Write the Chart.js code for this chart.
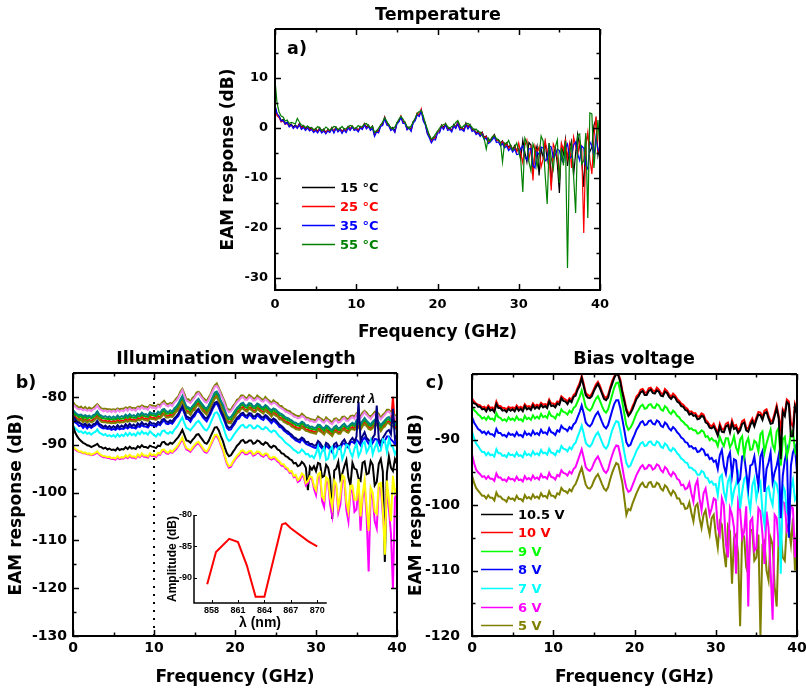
<!DOCTYPE html>
<html>
<head>
<meta charset="utf-8">
<script src="https://cdn.jsdelivr.net/npm/chart.js@4.4.1/dist/chart.umd.min.js"></script>
<style>
  body { margin: 0; background: #fff; width: 806px; height: 693px; position: relative; overflow: hidden; font-family: "DejaVu Sans", sans-serif; }
  canvas { position: absolute; }
  .lbl { position: absolute; transform: translate(-50%, -50%); font-weight: bold; font-size: 17.5px; line-height: 1; white-space: nowrap; color: #000; }
</style>
</head>
<body>
<canvas id="chartA" width="420" height="345" style="left:200px;top:0px"></canvas>
<canvas id="chartB" width="410" height="348" style="left:0px;top:345px"></canvas>
<canvas id="chartC" width="408" height="348" style="left:398px;top:345px"></canvas>
<canvas id="chartInset" width="185" height="140" style="left:150px;top:500px"></canvas>

<div class="lbl" style="left:438px;top:15px">Temperature</div>
<div class="lbl" style="left:297px;top:49px">a)</div>
<div class="lbl" style="left:236px;top:359px">Illumination wavelength</div>
<div class="lbl" style="left:26px;top:383px">b)</div>
<div class="lbl" style="left:634px;top:359px">Bias voltage</div>
<div class="lbl" style="left:435px;top:383px">c)</div>
<div class="lbl" style="left:344px;top:398px;font:italic bold 13px 'Liberation Sans'">different &lambda;</div>

<script>
// frequency grid (GHz), shared by all three panels
const freq = [
  0, 0.25, 0.5, 0.75, 1, 1.25, 1.5, 1.75, 2, 2.25, 2.5, 2.75, 3, 3.25, 3.5, 3.75, 4, 4.25, 4.5, 4.75,
  5, 5.25, 5.5, 5.75, 6, 6.25, 6.5, 6.75, 7, 7.25, 7.5, 7.75, 8, 8.25, 8.5, 8.75, 9, 9.25, 9.5, 9.75,
  10, 10.25, 10.5, 10.75, 11, 11.25, 11.5, 11.75, 12, 12.25, 12.5, 12.75, 13, 13.25, 13.5, 13.75, 14, 14.25, 14.5, 14.75,
  15, 15.25, 15.5, 15.75, 16, 16.25, 16.5, 16.75, 17, 17.25, 17.5, 17.75, 18, 18.25, 18.5, 18.75, 19, 19.25, 19.5, 19.75,
  20, 20.25, 20.5, 20.75, 21, 21.25, 21.5, 21.75, 22, 22.25, 22.5, 22.75, 23, 23.25, 23.5, 23.75, 24, 24.25, 24.5, 24.75,
  25, 25.25, 25.5, 25.75, 26, 26.25, 26.5, 26.75, 27, 27.25, 27.5, 27.75, 28, 28.25, 28.5, 28.75, 29, 29.25, 29.5, 29.75,
  30, 30.25, 30.5, 30.75, 31, 31.25, 31.5, 31.75, 32, 32.25, 32.5, 32.75, 33, 33.25, 33.5, 33.75, 34, 34.25, 34.5, 34.75,
  35, 35.25, 35.5, 35.75, 36, 36.25, 36.5, 36.75, 37, 37.25, 37.5, 37.75, 38, 38.25, 38.5, 38.75, 39, 39.25, 39.5, 39.75,
  40
];
const freqTicks = [0, 10, 20, 30, 40];

// a) temperature
const tempLabels = ['15 °C', '25 °C', '35 °C', '55 °C'];
const t15 = [
  4.3, 2.7, 2.4, 1.5, 1.7, 0.9, 1.2, 0.5, 0.8, 0.2, 0.6, 0.2, 0.9, 0.1, 0.5, -0.2, 0.3, -0.3, 0.1, -0.6,
  -0.1, -0.7, 0.1, -0.6, -0.2, -0.9, -0.3, -0.6, 0.1, -0.7, 0.2, -0.5, 0.0, -0.8, -0.1, -0.6, 0.3, -0.2, 0.4, -0.2,
  0.1, -0.5, 0.3, 0.0, 0.9, 0.2, 0.6, -0.1, 0.4, -1.3, -0.5, -0.6, 0.6, 0.9, 2.2, 1.0, 0.7, -0.2, 0.1, -0.6,
  1.1, 1.4, 2.3, 1.3, 1.2, 0.0, 0.2, -0.4, 1.3, 1.6, 2.9, 2.6, 3.6, 1.8, 1.0, -0.8, -1.4, -2.6, -1.8, -1.9,
  -0.6, -0.6, 0.6, 0.1, 0.9, -0.2, 0.0, -0.5, 0.7, 0.2, 1.2, 0.0, 0.1, -0.4, 1.0, 0.2, 0.7, -0.4, -0.2, -1.0,
  -0.6, -1.4, -0.8, -1.9, -1.6, -2.7, -2.4, -1.8, -1.3, -2.5, -2.3, -3.1, -2.6, -3.5, -3.0, -3.9, -3.4, -4.3, -3.5, -4.6,
  -4.2, -6.0, -2.4, -4.8, -6.8, -2.9, -3.4, -8.5, -5.0, -3.6, -9.5, -4.2, -5.8, -2.8, -6.4, -3.0, -11.5, -5.2, -4.0, -7.2,
  -13.0, -3.5, -5.2, -2.2, -7.6, -4.0, -2.6, -9.5, -5.0, -1.2, -3.8, -6.5, -11.8, -2.6, -1.5, -4.8, -3.8, 0.5, 1.8, -5.5,
  -3.5
];
const t25 = [
  4.0, 2.4, 2.1, 1.2, 1.4, 0.7, 0.9, 0.3, 0.6, 0.0, 0.4, 0.0, 0.7, -0.1, 0.3, -0.4, 0.1, -0.5, -0.1, -0.7,
  -0.3, -0.8, -0.1, -0.8, -0.4, -1.0, -0.4, -0.7, 0.0, -0.8, 0.1, -0.6, -0.1, -0.9, -0.2, -0.7, 0.2, -0.3, 0.3, -0.4,
  -0.1, -0.6, 0.2, -0.1, 0.8, 0.0, 0.4, -0.3, 0.2, -1.5, -0.6, -0.8, 0.5, 0.7, 2.1, 0.8, 0.5, -0.3, -0.1, -0.8,
  0.9, 1.5, 2.4, 1.1, 1.0, -0.2, 0.1, -0.5, 1.1, 1.7, 3.0, 2.5, 3.8, 1.6, 0.8, -1.0, -1.7, -2.8, -2.0, -2.1,
  -0.8, -0.8, 0.5, -0.1, 0.8, -0.3, -0.2, -0.6, 0.5, 0.1, 1.0, -0.2, -0.1, -0.5, 0.8, 0.0, 0.5, -0.5, -0.4, -1.2,
  -0.8, -1.5, -1.0, -2.1, -1.7, -2.9, -2.5, -2.0, -1.5, -2.6, -2.5, -3.3, -2.8, -3.7, -3.2, -4.1, -3.6, -4.4, -3.8, -4.9,
  -3.0, -5.2, -7.0, -3.5, -2.4, -6.2, -4.0, -10.5, -3.6, -5.0, -3.8, -7.8, -6.2, -2.6, -4.5, -5.8, -12.5, -3.2, -4.2, -6.0,
  -9.5, -3.0, -4.4, -2.4, -6.0, -3.2, -8.0, -1.8, -3.6, -5.5, -2.6, -4.0, -21.0, -3.5, -0.8, -6.2, -9.2, -2.0, 2.3, -4.8,
  -4.0
];
const t35 = [
  4.6, 2.9, 2.3, 1.4, 1.5, 0.8, 1.1, 0.2, 0.6, -0.1, 0.4, -0.1, 0.6, -0.3, 0.1, -0.5, 0.0, -0.6, -0.3, -0.9,
  -0.5, -1.0, -0.3, -1.0, -0.6, -1.2, -0.6, -0.9, -0.2, -1.0, -0.1, -0.8, -0.3, -1.1, -0.4, -0.9, 0.0, -0.5, 0.2, -0.5,
  -0.3, -0.8, 0.0, -0.3, 0.6, -0.2, 0.3, -0.5, 0.0, -1.7, -0.8, -1.0, 0.3, 0.5, 1.9, 0.6, 0.4, -0.5, -0.2, -0.9,
  0.8, 1.2, 2.1, 0.9, 0.9, -0.4, 0.0, -0.7, 1.0, 1.4, 2.6, 2.3, 3.4, 1.4, 0.6, -1.2, -2.0, -3.0, -2.3, -2.4,
  -1.0, -1.0, 0.3, -0.3, 0.6, -0.5, -0.3, -0.8, 0.4, -0.1, 0.8, -0.4, -0.3, -0.7, 0.6, -0.2, 0.4, -0.7, -0.5, -1.3,
  -1.0, -1.7, -1.2, -2.3, -2.0, -3.1, -2.8, -2.3, -1.8, -2.9, -2.8, -3.6, -3.1, -4.0, -3.6, -4.5, -4.0, -4.8, -4.2, -5.3,
  -5.2, -4.0, -3.6, -5.8, -6.4, -4.2, -4.1, -7.5, -8.0, -4.8, -5.3, -3.8, -4.0, -6.6, -6.2, -3.6, -3.8, -5.9, -5.5, -4.2,
  -4.5, -6.2, -7.0, -4.0, -3.2, -6.0, -5.8, -3.4, -2.8, -5.2, -6.5, -3.6, -4.0, -7.5, -8.2, -2.8, -3.5, -5.8, -1.8, -4.2,
  -5.0
];
const t55 = [
  9.6, 5.0, 3.2, 2.4, 2.2, 1.4, 1.6, 0.9, 1.1, 1.0, 0.8, 1.9, 1.2, 0.6, 0.5, 0.1, 0.4, 0.1, 0.1, -0.3,
  -0.2, 0.3, 0.0, -0.5, -0.4, 0.2, -0.1, -0.5, -0.1, 0.3, 0.2, -0.3, -0.1, 0.3, -0.2, -0.1, 0.2, 0.5, 0.4, -0.1,
  0.0, 0.5, 0.2, 0.3, 0.8, 0.9, 0.4, 0.0, 0.3, -0.9, -0.6, 0.0, 0.6, 1.2, 2.0, 1.4, 0.6, 0.1, -0.2, 0.2,
  1.0, 1.8, 2.3, 1.8, 1.1, 0.3, -0.1, 0.4, 1.2, 2.0, 2.9, 3.3, 3.5, 2.4, 0.9, -0.2, -1.5, -2.2, -1.9, -1.2,
  -0.7, 0.0, 0.4, 0.7, 0.8, 0.3, -0.1, 0.3, 0.5, 1.1, 1.5, 0.6, 0.0, 0.5, 0.8, 0.9, 0.6, 0.1, -0.4, -0.2,
  -0.7, -0.8, -1.5, -2.2, -4.2, -2.0, -2.6, -1.8, -1.5, -2.1, -2.4, -2.9, -6.8, -3.0, -3.2, -2.5, -3.6, -4.4, -3.8, -3.0,
  -4.6, -6.5, -12.8, -2.0, -3.0, -6.8, -8.6, -3.2, -4.4, -7.8, -5.8, -1.6, -2.6, -9.4, -15.2, -3.0, -6.0, -8.2, -3.8, -2.4,
  -11.0, -4.0, -7.5, -2.6, -28.0, -5.0, -3.2, -9.6, -17.0, -1.5, -1.2, -7.2, -6.5, -1.0, -18.0, 3.0, 2.8, -8.0, -3.0, 1.6,
  -4.5
];
const tempTicks = [-30, -20, -10, 0, 10];

// b) illumination wavelength (one trace per wavelength)
const bViolet = [
  -81.6, -82.0, -82.4, -82.6, -82.5, -82.8, -82.6, -82.9, -82.7, -83.0, -82.6, -82.4, -81.8, -82.5, -82.7, -83.0, -82.8, -83.1, -82.9, -83.2,
  -82.9, -83.2, -82.7, -83.1, -82.8, -83.0, -82.5, -82.9, -82.4, -82.8, -82.6, -82.9, -82.3, -82.6, -82.1, -82.5, -82.4, -82.7, -82.0, -82.3,
  -82.2, -82.5, -81.9, -82.2, -81.5, -81.3, -81.8, -82.0, -81.6, -81.9, -81.2, -80.8, -80.2, -79.4, -78.6, -79.8, -80.8, -81.0, -81.3, -80.7,
  -80.2, -79.6, -79.2, -79.9, -80.4, -81.0, -81.2, -80.6, -79.7, -78.8, -77.9, -77.7, -78.4, -79.6, -80.4, -81.6, -82.7, -83.2, -83.0, -82.4,
  -81.7, -81.1, -80.7, -80.2, -80.0, -80.6, -80.6, -80.1, -80.2, -80.8, -80.7, -80.2, -80.4, -80.9, -81.0, -80.5, -80.8, -81.3, -81.6, -81.2,
  -81.4, -81.8, -82.2, -82.4, -82.7, -83.1, -83.2, -83.5, -83.7, -84.1, -84.2, -84.5, -84.4, -84.0, -84.2, -84.8, -84.7, -85.1, -85.0, -85.3,
  -85.2, -84.6, -84.7, -85.2, -85.4, -84.8, -85.0, -85.5, -85.7, -85.1, -84.8, -85.4, -85.2, -84.7, -84.4, -85.0, -85.0, -84.5, -84.2, -84.6,
  -83.7, -84.1, -84.4, -83.8, -83.2, -83.8, -84.2, -84.6, -84.0, -83.6, -83.4, -84.1, -84.7, -84.2, -83.7, -83.2, -83.0, -83.6, -83.7, -84.4,
  -84.2
];
const bOlive = [
  -81.0, -81.7, -81.9, -82.3, -82.0, -82.5, -82.1, -82.6, -82.2, -82.5, -82.3, -81.9, -81.5, -82.0, -82.4, -82.5, -82.5, -82.6, -82.6, -82.7,
  -82.6, -82.7, -82.4, -82.6, -82.5, -82.5, -82.2, -82.4, -82.1, -82.3, -82.3, -82.4, -82.0, -82.1, -81.8, -82.0, -82.1, -82.2, -81.7, -81.8,
  -81.9, -82.0, -81.6, -81.7, -81.2, -80.8, -81.5, -81.5, -81.3, -81.4, -80.9, -80.3, -79.9, -78.9, -78.3, -79.3, -80.5, -80.5, -81.0, -80.2,
  -79.9, -79.1, -78.9, -79.4, -80.1, -80.5, -80.9, -80.1, -79.4, -78.3, -77.6, -77.2, -78.1, -79.1, -80.1, -81.1, -82.4, -82.7, -82.7, -81.9,
  -81.4, -80.6, -80.4, -79.7, -79.7, -80.1, -80.3, -79.6, -79.9, -80.3, -80.4, -79.7, -80.1, -80.4, -80.7, -80.0, -80.5, -80.8, -81.3, -80.7,
  -81.1, -81.3, -81.9, -81.9, -82.4, -82.6, -82.9, -83.0, -83.4, -83.6, -83.9, -84.0, -84.1, -83.5, -83.9, -84.3, -84.4, -84.6, -84.7, -84.8,
  -84.9, -84.1, -84.4, -84.7, -85.1, -84.3, -84.7, -85.0, -85.4, -84.6, -84.5, -84.9, -84.9, -84.2, -84.1, -84.5, -84.7, -84.0, -83.9, -84.1,
  -83.4, -83.6, -84.1, -83.3, -82.9, -83.3, -83.9, -84.1, -83.7, -83.1, -83.1, -83.6, -84.4, -83.7, -83.4, -82.7, -82.7, -83.1, -83.4, -83.9,
  -83.8
];
const bTeal = [
  -82.8, -83.2, -83.6, -83.8, -83.7, -84.0, -83.8, -84.1, -83.9, -84.2, -83.8, -83.6, -83.0, -83.7, -83.9, -84.2, -84.0, -84.3, -84.1, -84.4,
  -84.1, -84.4, -83.9, -84.3, -84.0, -84.2, -83.7, -84.1, -83.6, -84.0, -83.8, -84.1, -83.5, -83.8, -83.3, -83.7, -83.6, -83.9, -83.2, -83.5,
  -83.4, -83.7, -83.1, -83.4, -82.7, -82.5, -83.0, -83.2, -82.8, -83.1, -82.4, -82.0, -81.4, -80.6, -79.8, -81.0, -82.0, -82.2, -82.5, -81.9,
  -81.4, -80.8, -80.4, -81.1, -81.6, -82.2, -82.4, -81.8, -80.9, -80.0, -79.1, -78.9, -79.6, -80.8, -81.6, -82.8, -83.9, -84.4, -84.2, -83.6,
  -82.9, -82.3, -81.9, -81.4, -81.2, -81.8, -81.8, -81.3, -81.4, -82.0, -81.9, -81.4, -81.6, -82.1, -82.2, -81.7, -82.0, -82.5, -82.8, -82.4,
  -82.6, -83.0, -83.4, -83.6, -83.9, -84.3, -84.4, -84.7, -84.9, -85.3, -85.4, -85.7, -85.6, -85.2, -85.4, -86.0, -85.9, -86.3, -86.2, -86.5,
  -86.4, -85.8, -85.9, -86.4, -86.6, -86.0, -86.2, -86.7, -86.9, -86.3, -86.0, -86.6, -86.4, -85.9, -85.6, -86.2, -86.2, -85.7, -85.4, -85.8,
  -84.9, -85.3, -85.6, -85.0, -84.4, -85.0, -85.4, -85.8, -85.2, -84.8, -84.6, -85.3, -85.9, -85.4, -84.9, -84.4, -84.2, -84.8, -84.9, -85.6,
  -85.4
];
const bGreen = [
  -83.1, -83.7, -83.9, -84.3, -84.0, -84.5, -84.1, -84.6, -84.2, -84.5, -84.3, -83.9, -83.5, -84.0, -84.4, -84.5, -84.5, -84.6, -84.6, -84.7,
  -84.6, -84.7, -84.4, -84.6, -84.5, -84.5, -84.2, -84.4, -84.1, -84.3, -84.3, -84.4, -84.0, -84.1, -83.8, -84.0, -84.1, -84.2, -83.7, -83.8,
  -83.9, -84.0, -83.6, -83.7, -83.2, -82.8, -83.5, -83.5, -83.3, -83.4, -82.9, -82.3, -81.9, -80.9, -80.3, -81.3, -82.5, -82.5, -83.0, -82.2,
  -81.9, -81.1, -80.9, -81.4, -82.1, -82.5, -82.9, -82.1, -81.4, -80.3, -79.6, -79.2, -80.1, -81.1, -82.1, -83.1, -84.4, -84.7, -84.7, -83.9,
  -83.4, -82.6, -82.4, -81.7, -81.7, -82.1, -82.3, -81.6, -81.9, -82.3, -82.4, -81.7, -82.1, -82.4, -82.7, -82.0, -82.5, -82.8, -83.3, -82.7,
  -83.1, -83.3, -83.9, -83.9, -84.4, -84.6, -84.9, -85.0, -85.4, -85.6, -85.9, -86.0, -86.1, -85.5, -85.9, -86.3, -86.4, -86.6, -86.7, -86.8,
  -86.9, -86.1, -86.4, -86.7, -87.1, -86.3, -86.7, -87.0, -87.4, -86.6, -86.5, -86.9, -86.9, -86.2, -86.1, -86.5, -86.7, -86.0, -85.9, -86.1,
  -85.4, -85.6, -86.1, -85.3, -84.9, -85.3, -85.9, -86.1, -85.7, -85.1, -85.1, -85.6, -86.4, -85.7, -85.4, -84.7, -84.7, -85.1, -85.4, -85.9,
  -85.8
];
const bRed = [
  -83.7, -84.1, -84.5, -84.7, -84.6, -84.9, -84.7, -85.0, -84.8, -85.1, -84.7, -84.5, -83.9, -84.6, -84.8, -85.1, -84.9, -85.2, -85.0, -85.3,
  -85.0, -85.3, -84.8, -85.2, -84.9, -85.1, -84.6, -85.0, -84.5, -84.9, -84.7, -85.0, -84.4, -84.7, -84.2, -84.6, -84.5, -84.8, -84.1, -84.4,
  -84.3, -84.6, -84.0, -84.3, -83.6, -83.4, -83.9, -84.1, -83.7, -84.0, -83.3, -82.9, -82.3, -81.5, -80.7, -81.9, -82.9, -83.1, -83.4, -82.8,
  -82.3, -81.7, -81.3, -82.0, -82.5, -83.1, -83.3, -82.7, -81.8, -80.9, -80.0, -79.8, -80.5, -81.7, -82.5, -83.7, -84.8, -85.3, -85.1, -84.5,
  -83.8, -83.2, -82.8, -82.3, -82.1, -82.7, -82.7, -82.2, -82.3, -82.9, -82.8, -82.3, -82.5, -83.0, -83.1, -82.6, -82.9, -83.4, -83.7, -83.3,
  -83.5, -83.9, -84.3, -84.5, -84.8, -85.2, -85.3, -85.6, -85.8, -86.2, -86.3, -86.6, -86.5, -86.1, -86.3, -86.9, -86.8, -87.2, -87.1, -87.4,
  -87.3, -86.7, -86.8, -87.3, -87.5, -86.9, -87.1, -87.6, -87.8, -87.2, -86.9, -87.5, -87.3, -86.8, -86.5, -87.1, -87.1, -86.6, -86.3, -86.7,
  -85.8, -86.2, -86.5, -85.9, -85.3, -85.9, -86.3, -86.7, -86.1, -85.7, -85.5, -86.2, -86.8, -86.3, -85.8, -85.3, -85.1, -85.7, -80.0, -86.5,
  -86.2
];
const bOlive2 = [
  -83.9, -84.5, -84.7, -85.1, -84.8, -85.3, -84.9, -85.4, -85.0, -85.3, -85.1, -84.7, -84.3, -84.8, -85.2, -85.3, -85.3, -85.4, -85.4, -85.5,
  -85.4, -85.5, -85.2, -85.4, -85.3, -85.3, -85.0, -85.2, -84.9, -85.1, -85.1, -85.2, -84.8, -84.9, -84.6, -84.8, -84.9, -85.0, -84.5, -84.6,
  -84.7, -84.8, -84.4, -84.5, -84.0, -83.6, -84.3, -84.3, -84.1, -84.2, -83.7, -83.1, -82.7, -81.7, -81.1, -82.1, -83.3, -83.3, -83.8, -83.0,
  -82.7, -81.9, -81.7, -82.2, -82.9, -83.3, -83.7, -82.9, -82.2, -81.1, -80.4, -80.0, -80.9, -81.9, -82.9, -83.9, -85.2, -85.5, -85.5, -84.7,
  -84.2, -83.4, -83.2, -82.5, -82.5, -82.9, -83.1, -82.4, -82.7, -83.1, -83.2, -82.5, -82.9, -83.2, -83.5, -82.8, -83.3, -83.6, -84.1, -83.5,
  -83.9, -84.1, -84.7, -84.7, -85.2, -85.4, -85.7, -85.8, -86.2, -86.4, -86.7, -86.8, -86.9, -86.3, -86.7, -87.1, -87.2, -87.4, -87.5, -87.6,
  -87.7, -86.9, -87.2, -87.5, -87.9, -87.1, -87.5, -87.8, -88.2, -87.4, -87.3, -87.7, -87.7, -87.0, -86.9, -87.3, -87.5, -86.8, -86.7, -86.9,
  -86.2, -86.4, -86.9, -86.1, -85.7, -86.1, -86.7, -86.9, -86.5, -85.9, -85.9, -86.4, -87.2, -86.5, -86.2, -85.5, -85.5, -85.9, -86.2, -86.7,
  -86.6
];
const bNavy = [
  -84.0, -84.6, -85.2, -85.4, -85.6, -85.9, -85.6, -86.1, -85.7, -86.2, -85.7, -85.6, -85.0, -85.7, -85.9, -86.3, -86.0, -86.4, -86.1, -86.5,
  -86.1, -86.5, -85.9, -86.4, -86.0, -86.3, -85.7, -86.2, -85.6, -86.1, -85.8, -86.2, -85.5, -85.9, -85.3, -85.8, -85.6, -86.0, -85.2, -85.6,
  -85.5, -85.8, -85.2, -85.5, -84.8, -84.6, -85.1, -85.3, -84.9, -85.2, -84.5, -84.1, -83.5, -82.7, -81.9, -83.1, -84.1, -84.3, -84.6, -84.0,
  -83.5, -82.9, -82.5, -83.2, -83.7, -84.3, -84.5, -83.9, -83.0, -82.1, -81.2, -81.0, -81.7, -82.9, -83.7, -84.9, -86.0, -86.5, -86.3, -85.7,
  -85.0, -84.4, -84.0, -83.5, -83.3, -83.9, -83.9, -83.4, -83.5, -84.1, -84.0, -83.5, -83.7, -84.2, -84.3, -83.8, -84.1, -84.6, -84.9, -84.5,
  -84.8, -85.3, -85.8, -86.1, -86.5, -87.0, -87.2, -87.6, -87.9, -88.4, -88.6, -89.0, -88.9, -88.5, -88.8, -89.5, -89.4, -89.9, -89.8, -90.2,
  -90.1, -89.2, -89.6, -90.3, -90.8, -89.6, -89.9, -90.6, -91.0, -89.9, -89.6, -90.5, -90.2, -89.4, -88.9, -89.8, -90.0, -89.1, -88.6, -89.3,
  -88.3, -81.0, -89.2, -88.2, -87.4, -88.6, -89.0, -89.6, -88.5, -87.9, -81.8, -88.8, -89.5, -88.6, -87.9, -87.2, -86.9, -87.8, -82.5, -88.8,
  -88.0
];
const bBlue = [
  -84.5, -85.3, -85.6, -86.1, -85.9, -86.5, -86.0, -86.6, -86.1, -86.5, -86.2, -85.9, -85.5, -86.1, -86.4, -86.6, -86.5, -86.7, -86.6, -86.9,
  -86.7, -86.9, -86.5, -86.8, -86.6, -86.7, -86.3, -86.6, -86.2, -86.5, -86.4, -86.6, -86.1, -86.3, -85.9, -86.2, -86.2, -86.4, -85.8, -86.0,
  -86.0, -86.2, -85.7, -85.9, -85.3, -84.9, -85.6, -85.7, -85.4, -85.6, -85.0, -84.4, -84.0, -83.0, -82.3, -83.4, -84.6, -84.7, -85.2, -84.4,
  -84.0, -83.2, -83.0, -83.5, -84.2, -84.7, -85.1, -84.3, -83.5, -82.5, -81.7, -81.3, -82.2, -83.3, -84.2, -85.3, -86.5, -86.9, -86.8, -86.1,
  -85.5, -84.7, -84.5, -83.8, -83.8, -84.2, -84.4, -83.7, -84.0, -84.5, -84.5, -83.8, -84.2, -84.6, -84.8, -84.1, -84.6, -85.0, -85.5, -84.9,
  -85.3, -85.7, -86.3, -86.4, -87.0, -87.3, -87.7, -87.9, -88.4, -88.7, -89.1, -89.3, -89.5, -88.8, -89.3, -89.8, -90.0, -90.2, -90.4, -90.6,
  -90.7, -89.6, -90.3, -90.8, -91.2, -90.1, -90.6, -91.0, -91.6, -90.4, -90.3, -90.9, -90.8, -89.8, -89.7, -90.3, -90.6, -89.5, -89.4, -89.7,
  -89.0, -89.4, -90.1, -89.0, -88.5, -89.1, -89.8, -90.2, -89.6, -88.8, -88.9, -89.5, -90.4, -89.5, -89.2, -88.3, -88.3, -88.9, -89.3, -89.9,
  -88.5
];
const bCyan = [
  -86.0, -86.5, -86.9, -87.3, -87.2, -87.6, -87.3, -87.7, -87.5, -87.9, -87.5, -87.3, -86.8, -87.5, -87.7, -88.0, -87.8, -88.2, -88.0, -88.3,
  -88.0, -88.4, -87.8, -88.3, -87.9, -88.2, -87.6, -88.1, -87.5, -88.0, -87.7, -88.1, -87.4, -87.8, -87.2, -87.7, -87.5, -87.9, -87.2, -87.6,
  -88.0, -88.3, -87.7, -88.0, -87.2, -87.0, -87.5, -87.7, -87.3, -87.6, -86.9, -86.4, -85.8, -85.0, -84.3, -85.5, -86.5, -86.7, -87.0, -86.4,
  -85.9, -85.3, -85.0, -85.6, -86.2, -86.8, -87.0, -86.4, -85.4, -84.4, -83.4, -83.2, -83.8, -85.0, -86.0, -87.4, -88.6, -89.2, -88.9, -88.2,
  -87.6, -87.0, -86.5, -86.0, -85.8, -86.4, -86.4, -85.9, -86.0, -86.6, -86.5, -86.0, -86.2, -86.7, -86.8, -86.3, -86.6, -87.1, -87.4, -87.0,
  -87.2, -87.8, -88.3, -88.6, -89.1, -89.6, -89.9, -90.2, -90.6, -91.1, -91.3, -91.7, -91.6, -91.0, -91.4, -92.0, -91.9, -92.5, -92.3, -92.8,
  -91.8, -90.4, -92.6, -91.3, -90.6, -93.2, -92.9, -91.0, -90.5, -92.8, -92.2, -90.6, -90.4, -93.0, -91.8, -90.0, -90.2, -91.6, -92.5, -90.8,
  -89.8, -92.4, -91.5, -89.8, -89.4, -91.6, -90.8, -89.2, -92.0, -90.6, -89.6, -91.4, -91.2, -88.9, -89.2, -91.5, -88.8, -90.2, -90.5, -92.0,
  -91.0
];
const bBlack = [
  -86.0, -87.4, -88.2, -88.8, -89.2, -89.6, -89.8, -90.1, -90.2, -90.5, -90.3, -90.1, -89.8, -90.4, -90.5, -90.8, -90.6, -91.0, -90.8, -91.1,
  -91.0, -91.2, -90.7, -91.1, -90.9, -91.0, -90.5, -90.9, -90.4, -90.8, -90.7, -90.9, -90.3, -90.6, -90.1, -90.5, -90.5, -90.7, -90.2, -90.4,
  -90.5, -90.7, -90.2, -90.3, -89.5, -89.4, -89.9, -90.0, -89.6, -89.8, -89.4, -88.9, -88.4, -87.7, -86.9, -88.0, -89.1, -89.2, -89.6, -89.0,
  -88.5, -87.9, -87.8, -88.4, -89.0, -89.6, -89.8, -89.2, -88.2, -87.3, -86.4, -86.3, -87.0, -88.2, -89.2, -90.6, -91.8, -92.4, -92.2, -91.5,
  -90.9, -90.2, -89.8, -89.2, -89.0, -89.6, -89.5, -89.1, -89.1, -89.8, -89.6, -89.1, -89.3, -89.8, -90.0, -89.5, -89.7, -90.3, -90.6, -90.2,
  -90.4, -91.0, -91.2, -91.8, -91.9, -92.4, -92.6, -93.0, -93.2, -93.9, -93.8, -94.5, -94.3, -93.6, -94.0, -94.8, -99.5, -94.6, -95.2, -94.5,
  -95.5, -93.8, -94.0, -96.8, -96.5, -94.2, -94.8, -97.0, -105.5, -95.4, -95.0, -93.6, -97.2, -96.0, -94.5, -93.2, -96.8, -98.5, -93.8, -95.0,
  -95.2, -97.0, -97.5, -93.8, -93.5, -96.2, -96.0, -93.4, -94.2, -98.5, -97.8, -94.0, -93.0, -95.6, -114.5, -96.0, -92.5, -94.8, -95.5, -93.0,
  -94.0
];
const bMagenta = [
  -90.6, -91.0, -91.3, -91.5, -91.6, -91.8, -91.8, -92.0, -92.0, -92.2, -92.1, -91.9, -91.6, -92.1, -92.4, -92.6, -92.6, -92.8, -92.8, -93.0,
  -93.0, -93.1, -92.7, -93.0, -92.9, -92.9, -92.5, -92.8, -92.4, -92.7, -92.7, -92.9, -92.3, -92.6, -92.1, -92.5, -92.5, -92.7, -92.1, -92.4,
  -92.3, -92.6, -92.0, -92.1, -91.4, -91.3, -91.8, -91.9, -91.5, -91.7, -91.3, -90.9, -90.3, -89.6, -88.8, -90.0, -91.0, -91.2, -91.5, -90.9,
  -90.4, -89.9, -89.7, -90.3, -90.9, -91.5, -91.7, -91.1, -90.1, -89.2, -88.3, -88.2, -88.9, -90.1, -91.1, -92.6, -94.0, -94.8, -94.6, -93.8,
  -93.2, -92.6, -92.2, -91.6, -91.5, -92.0, -92.0, -91.6, -91.6, -92.3, -92.1, -91.7, -91.8, -92.3, -92.5, -92.1, -92.2, -92.9, -93.1, -92.8,
  -93.0, -93.5, -93.8, -94.4, -94.4, -95.0, -95.2, -95.9, -95.8, -96.8, -96.6, -97.8, -97.5, -96.4, -96.8, -98.5, -98.0, -97.0, -97.2, -99.2,
  -100.5, -97.0, -96.5, -101.8, -103.0, -97.6, -98.0, -102.5, -104.8, -98.2, -99.0, -104.2, -102.5, -97.5, -97.5, -103.6, -106.0, -99.8, -99.5, -104.0,
  -103.5, -98.6, -108.0, -101.2, -98.5, -105.0, -116.5, -100.0, -101.0, -106.0, -107.5, -99.0, -99.0, -104.5, -110.0, -98.5, -103.5, -108.5, -120.0, -101.0,
  -100.5
];
const bYellow = [
  -90.4, -90.8, -91.1, -91.4, -91.4, -91.7, -91.6, -91.9, -91.8, -92.1, -91.9, -91.7, -91.4, -91.9, -92.2, -92.4, -92.4, -92.6, -92.5, -92.8,
  -92.7, -92.9, -92.4, -92.8, -92.6, -92.7, -92.2, -92.6, -92.1, -92.5, -92.4, -92.7, -92.0, -92.4, -91.8, -92.3, -92.2, -92.5, -91.8, -92.2,
  -92.0, -92.3, -91.7, -91.9, -91.1, -91.0, -91.5, -91.7, -91.2, -91.5, -91.0, -90.6, -90.0, -89.3, -88.5, -89.7, -90.7, -90.9, -91.2, -90.6,
  -90.1, -89.6, -89.4, -90.0, -90.6, -91.2, -91.4, -90.8, -89.8, -88.9, -88.0, -87.9, -88.6, -89.8, -90.8, -92.3, -93.7, -94.5, -94.3, -93.5,
  -92.9, -92.3, -91.9, -91.3, -91.2, -91.7, -91.7, -91.3, -91.3, -92.0, -91.8, -91.4, -91.5, -92.0, -92.2, -91.8, -91.9, -92.6, -92.8, -92.5,
  -92.7, -93.2, -93.5, -94.1, -94.1, -94.7, -94.9, -95.6, -95.5, -96.5, -96.3, -97.4, -97.0, -96.0, -96.4, -98.0, -97.6, -96.6, -96.8, -98.6,
  -99.5, -96.2, -95.8, -100.8, -101.5, -96.8, -97.2, -101.0, -103.0, -97.5, -98.2, -103.0, -100.8, -96.4, -96.8, -102.0, -104.0, -98.6, -98.5, -101.5,
  -101.5, -97.2, -105.0, -100.5, -97.5, -103.0, -108.0, -99.0, -100.0, -104.0, -104.5, -98.2, -98.0, -103.5, -113.0, -97.5, -101.5, -106.0, -96.5, -100.0,
  -99.0
];
const wlTicks = [-130, -120, -110, -100, -90, -80];
const markerFreq = 10;   // dotted line where the inset amplitude is taken

// b) inset: amplitude at 10 GHz versus wavelength
const lambda = [857.5, 858.5, 860, 861, 862, 863, 864, 866, 866.4, 867, 869, 870];
const amplitude = [-91.0, -85.9, -83.8, -84.3, -88.0, -93.0, -93.0, -81.5, -81.3, -82.1, -84.2, -85.0];
const lambdaTicks = [858, 861, 864, 867, 870];
const ampTicks = [-90, -85, -80];

// c) bias voltage
const biasLabels = ['10.5 V', '10 V', '9 V', '8 V', '7 V', '6 V', '5 V'];
const v105 = [
  -84.2, -84.5, -84.6, -85.0, -85.0, -85.4, -85.3, -85.7, -85.1, -85.6, -85.4, -85.8, -84.6, -85.2, -85.2, -85.6, -85.5, -85.8, -85.3, -85.6,
  -85.4, -85.7, -85.1, -85.6, -85.3, -85.7, -84.9, -85.4, -85.2, -85.5, -84.8, -85.3, -85.0, -85.3, -84.7, -85.1, -84.9, -85.2, -84.2, -84.9,
  -84.8, -85.1, -84.5, -84.7, -83.7, -84.1, -84.2, -84.6, -84.0, -84.3, -83.5, -83.3, -82.4, -81.8, -80.6, -81.9, -83.2, -83.6, -83.7, -83.4,
  -82.6, -82.0, -81.5, -82.2, -83.0, -83.8, -84.0, -83.6, -82.4, -81.5, -80.6, -80.0, -80.2, -81.2, -82.8, -84.2, -85.6, -86.4, -86.0, -85.4,
  -84.6, -83.8, -83.4, -82.8, -82.6, -83.2, -83.2, -82.6, -82.4, -82.9, -83.0, -82.5, -82.7, -83.3, -83.4, -82.7, -82.9, -83.5, -83.8, -83.4,
  -83.6, -84.2, -84.4, -84.9, -85.0, -85.5, -85.6, -86.2, -86.0, -86.4, -86.3, -86.9, -86.8, -86.4, -86.5, -87.4, -87.6, -88.2, -88.3, -88.0,
  -88.6, -89.4, -88.0, -88.8, -88.9, -88.0, -87.8, -88.9, -87.5, -88.4, -88.2, -89.0, -88.6, -87.6, -87.4, -88.6, -88.8, -87.8, -87.2, -88.0,
  -87.0, -86.2, -86.3, -87.0, -86.0, -85.8, -86.8, -87.6, -87.5, -86.4, -85.2, -86.8, -93.0, -85.8, -86.4, -84.3, -84.6, -89.5, -89.5, -85.0,
  -86.0
];
const v10 = [
  -83.7, -84.2, -84.5, -84.7, -84.8, -85.1, -85.0, -85.3, -84.8, -85.2, -85.1, -85.4, -84.2, -84.9, -84.9, -85.2, -85.2, -85.4, -85.0, -85.2,
  -85.1, -85.3, -84.8, -85.2, -85.0, -85.3, -84.6, -85.0, -84.9, -85.1, -84.5, -84.9, -84.7, -84.9, -84.4, -84.7, -84.6, -84.8, -83.9, -84.5,
  -84.5, -84.7, -84.2, -84.3, -83.4, -83.7, -83.9, -84.2, -83.7, -83.9, -83.2, -82.9, -82.1, -81.4, -80.3, -81.5, -82.9, -83.2, -83.4, -83.0,
  -82.3, -81.6, -81.2, -81.8, -82.7, -83.4, -83.7, -83.2, -82.1, -81.1, -80.4, -79.8, -80.0, -80.8, -82.5, -83.8, -85.3, -86.0, -85.8, -85.0,
  -84.3, -83.4, -83.1, -82.4, -82.3, -82.8, -82.9, -82.2, -82.1, -82.5, -82.7, -82.1, -82.4, -82.9, -83.1, -82.3, -82.6, -83.1, -83.5, -83.0,
  -83.3, -83.8, -84.1, -84.5, -84.7, -85.1, -85.3, -85.8, -85.7, -86.0, -86.0, -86.5, -86.5, -86.0, -86.2, -87.0, -87.3, -87.8, -88.0, -87.6,
  -88.3, -89.0, -87.6, -88.4, -88.5, -87.6, -87.4, -88.5, -87.1, -88.0, -87.8, -88.6, -88.2, -87.2, -87.0, -88.2, -88.4, -87.4, -86.8, -87.6,
  -86.6, -85.8, -85.9, -86.6, -85.6, -85.4, -86.4, -87.2, -87.1, -86.0, -84.8, -86.4, -88.5, -85.4, -86.0, -83.9, -84.2, -87.5, -88.0, -84.6,
  -85.6
];
const v9 = [
  -85.0, -85.5, -85.8, -86.2, -86.4, -86.8, -86.6, -87.0, -86.5, -86.9, -86.8, -87.1, -86.0, -86.6, -86.7, -87.1, -86.9, -87.2, -86.6, -87.0,
  -86.8, -87.1, -86.5, -87.0, -86.9, -87.2, -86.4, -86.9, -86.7, -87.0, -86.3, -86.8, -86.5, -86.8, -86.1, -86.6, -86.4, -86.7, -85.8, -86.4,
  -86.5, -86.8, -86.1, -86.3, -85.4, -85.8, -85.9, -86.2, -85.6, -85.9, -85.2, -84.9, -84.2, -83.5, -82.5, -83.7, -85.0, -85.4, -85.6, -85.2,
  -84.4, -83.8, -83.4, -84.1, -84.9, -85.6, -85.9, -85.4, -84.3, -83.2, -82.1, -81.4, -81.3, -82.6, -84.3, -86.1, -87.8, -88.5, -88.2, -87.6,
  -86.8, -86.0, -85.5, -84.9, -84.7, -85.3, -85.2, -84.7, -84.6, -85.1, -85.2, -84.6, -84.8, -85.4, -85.6, -84.9, -85.2, -85.8, -86.1, -85.6,
  -85.9, -86.4, -86.6, -87.1, -87.3, -87.7, -87.9, -88.4, -88.3, -88.6, -88.6, -89.1, -89.0, -88.6, -88.8, -89.6, -89.5, -90.1, -89.8, -90.2,
  -90.2, -91.0, -89.6, -90.4, -91.0, -89.8, -89.8, -91.2, -90.6, -89.5, -91.2, -92.0, -90.0, -89.5, -92.5, -90.5, -89.8, -91.6, -91.5, -90.2,
  -90.5, -91.8, -89.2, -88.8, -92.0, -90.6, -89.5, -88.5, -90.8, -91.6, -88.8, -88.2, -94.0, -90.0, -89.6, -92.6, -91.2, -89.0, -88.6, -91.8,
  -92.5
];
const v8 = [
  -86.6, -87.4, -87.9, -88.4, -88.6, -89.0, -88.8, -89.2, -88.8, -89.2, -89.2, -89.5, -88.4, -89.0, -89.0, -89.4, -89.3, -89.6, -89.0, -89.3,
  -89.2, -89.5, -88.9, -89.4, -89.3, -89.6, -88.8, -89.3, -89.1, -89.4, -88.7, -89.2, -89.0, -89.3, -88.5, -89.0, -88.9, -89.2, -88.3, -88.9,
  -89.0, -89.3, -88.6, -88.8, -87.9, -88.3, -88.4, -88.7, -88.1, -88.4, -87.7, -87.4, -86.6, -85.8, -84.8, -86.0, -87.4, -87.8, -88.0, -87.6,
  -86.8, -86.2, -85.8, -86.5, -87.3, -88.0, -88.3, -87.8, -86.7, -85.6, -84.6, -84.0, -84.0, -85.2, -86.9, -88.6, -90.4, -91.0, -90.8, -90.0,
  -89.3, -88.5, -88.0, -87.4, -87.2, -87.8, -87.7, -87.2, -87.1, -87.6, -87.7, -87.1, -87.3, -87.9, -88.1, -87.4, -87.7, -88.3, -88.6, -88.1,
  -88.4, -88.9, -89.2, -89.7, -89.9, -90.4, -90.5, -91.1, -91.0, -91.4, -91.3, -91.9, -91.8, -91.4, -91.6, -92.4, -92.3, -93.0, -92.8, -93.4,
  -93.2, -94.5, -92.4, -91.6, -94.0, -95.2, -92.8, -92.0, -95.5, -93.0, -93.2, -96.5, -96.0, -92.6, -92.5, -95.0, -97.5, -94.0, -93.8, -92.6,
  -95.0, -97.0, -92.6, -91.8, -98.0, -94.5, -93.5, -92.0, -96.5, -95.0, -94.0, -92.4, -102.0, -95.5, -93.2, -91.8, -105.0, -94.0, -92.0, -91.2,
  -95.0
];
const v7 = [
  -88.8, -89.8, -90.6, -91.0, -91.5, -91.9, -91.9, -92.4, -92.0, -92.4, -92.3, -92.6, -91.5, -92.1, -92.1, -92.5, -92.4, -92.7, -92.1, -92.4,
  -92.3, -92.6, -92.0, -92.5, -92.4, -92.7, -91.9, -92.4, -92.2, -92.5, -91.8, -92.3, -92.1, -92.4, -91.6, -92.1, -92.0, -92.3, -91.4, -92.0,
  -92.1, -92.4, -91.7, -91.9, -91.0, -91.4, -91.5, -91.8, -91.2, -91.5, -90.8, -90.5, -89.6, -88.8, -87.9, -89.1, -90.5, -90.9, -91.1, -90.7,
  -89.9, -89.3, -88.9, -89.6, -90.4, -91.1, -91.4, -90.9, -89.7, -88.6, -87.8, -87.2, -87.3, -88.6, -90.2, -92.0, -93.6, -94.2, -94.0, -93.2,
  -92.5, -91.7, -91.2, -90.6, -90.4, -91.0, -90.9, -90.4, -90.3, -90.8, -90.9, -90.3, -90.5, -91.1, -91.3, -90.6, -90.9, -91.5, -91.8, -91.3,
  -91.6, -92.1, -92.4, -92.9, -93.1, -93.5, -93.6, -94.3, -94.3, -94.6, -94.8, -95.4, -95.4, -94.8, -95.0, -95.8, -95.9, -96.6, -96.4, -96.9,
  -96.8, -98.5, -95.8, -95.4, -98.0, -99.2, -96.4, -95.6, -99.5, -97.8, -96.8, -95.4, -100.5, -98.0, -96.0, -95.6, -98.8, -100.8, -97.0, -96.0,
  -99.0, -97.2, -96.5, -101.0, -103.0, -97.6, -97.2, -99.0, -100.0, -96.4, -96.8, -98.5, -110.5, -97.0, -97.8, -101.0, -101.5, -97.5, -96.2, -99.2,
  -98.5
];
const v6 = [
  -92.3, -93.6, -94.6, -95.0, -95.3, -95.7, -95.6, -96.0, -95.6, -96.0, -96.0, -96.3, -95.2, -95.8, -95.8, -96.2, -96.1, -96.4, -95.8, -96.1,
  -96.0, -96.3, -95.7, -96.2, -96.1, -96.4, -95.6, -96.1, -95.9, -96.2, -95.5, -96.0, -95.8, -96.1, -95.3, -95.8, -95.7, -96.0, -95.1, -95.7,
  -95.8, -96.1, -95.4, -95.6, -94.7, -95.1, -95.2, -95.5, -94.9, -95.2, -94.5, -94.2, -93.3, -92.4, -91.5, -92.8, -94.2, -94.6, -94.8, -94.4,
  -93.6, -93.0, -92.6, -93.3, -94.1, -94.8, -95.1, -94.6, -93.4, -92.4, -91.5, -90.9, -91.0, -92.4, -94.2, -96.0, -97.4, -98.0, -97.8, -97.0,
  -96.2, -95.4, -94.8, -94.2, -93.9, -94.5, -94.4, -93.9, -94.0, -94.6, -94.4, -93.8, -94.0, -94.7, -95.0, -94.2, -94.5, -95.2, -95.6, -95.0,
  -95.3, -96.0, -96.2, -97.0, -96.9, -97.6, -97.4, -96.6, -98.2, -99.5, -97.0, -96.2, -99.0, -100.8, -98.2, -97.5, -99.5, -101.5, -100.5, -99.0,
  -99.2, -103.5, -104.5, -99.0, -100.0, -106.0, -108.0, -100.5, -101.5, -103.5, -110.5, -99.5, -100.8, -105.0, -104.0, -100.2, -115.5, -102.5, -102.0, -107.0,
  -106.5, -100.5, -101.0, -104.5, -109.0, -101.0, -103.5, -110.0, -117.5, -101.5, -102.0, -106.0, -105.5, -99.5, -99.8, -104.0, -103.5, -100.2, -100.5, -108.0,
  -104.0
];
const v5 = [
  -95.5, -96.6, -97.4, -97.8, -98.2, -98.6, -98.6, -99.0, -98.5, -98.9, -98.9, -99.3, -98.1, -98.7, -98.7, -99.1, -99.2, -99.5, -98.8, -99.1,
  -99.0, -99.3, -98.6, -99.1, -99.1, -99.4, -98.5, -99.0, -98.8, -99.1, -98.4, -98.9, -98.7, -99.0, -98.2, -98.7, -98.6, -98.9, -97.9, -98.6,
  -98.6, -98.9, -98.2, -98.4, -97.4, -97.8, -97.9, -98.2, -97.6, -97.9, -97.2, -96.8, -96.0, -95.1, -94.3, -95.6, -96.9, -97.4, -97.5, -97.1,
  -96.3, -95.7, -95.3, -96.0, -96.8, -97.5, -97.8, -97.3, -96.1, -95.1, -94.3, -93.6, -93.8, -95.2, -96.6, -99.0, -101.5, -100.6, -100.8, -99.8,
  -99.0, -98.2, -97.5, -96.9, -96.6, -97.2, -97.3, -96.6, -96.5, -97.2, -97.2, -96.6, -96.8, -97.5, -97.8, -97.0, -97.3, -98.0, -98.5, -97.8,
  -98.2, -99.0, -99.0, -99.8, -99.8, -100.6, -100.5, -99.6, -101.2, -102.5, -100.2, -99.8, -102.0, -103.5, -101.5, -100.8, -103.0, -104.5, -102.0, -101.5,
  -104.5, -106.5, -102.5, -103.0, -107.0, -109.5, -103.2, -104.0, -112.0, -105.0, -104.5, -107.5, -118.5, -104.0, -105.0, -109.5, -110.5, -103.8, -103.8, -108.5,
  -108.0, -104.5, -120.0, -106.0, -105.5, -110.0, -111.5, -105.0, -106.0, -112.5, -115.5, -104.5, -104.5, -108.0, -108.5, -103.0, -103.5, -106.0, -102.0, -110.0,
  -107.0
];
const biasTicks = [-120, -110, -100, -90];

Chart.defaults.font.family = "'DejaVu Sans', sans-serif";

const pts = (xs, ys) => xs.map((x, i) => ({ x: x, y: ys[i] }));

function trace(label, values, color, width, order) {
  return { label: label, data: pts(freq, values), borderColor: color, backgroundColor: color,
           borderWidth: width, pointRadius: 0, tension: 0, order: order };
}

// boxed frame with inward major/minor ticks
const frame = {
  id: 'frame',
  afterDatasetsDraw(chart, args, o) {
    const { ctx, chartArea: a } = chart;
    const xs = chart.scales.x, ys = chart.scales.y;
    const sides = o.sides || 'lrtb';
    ctx.save();
    ctx.strokeStyle = '#000';
    ctx.lineWidth = o.lineWidth;
    ctx.beginPath();
    if (sides.includes('l')) { ctx.moveTo(a.left, a.top); ctx.lineTo(a.left, a.bottom); }
    if (sides.includes('r')) { ctx.moveTo(a.right, a.top); ctx.lineTo(a.right, a.bottom); }
    if (sides.includes('t')) { ctx.moveTo(a.left, a.top); ctx.lineTo(a.right, a.top); }
    if (sides.includes('b')) { ctx.moveTo(a.left - o.lineWidth / 2, a.bottom); ctx.lineTo(a.right + o.lineWidth / 2, a.bottom); }
    ctx.stroke();
    ctx.lineWidth = o.tickWidth;
    ctx.beginPath();
    const isMajor = (v, step) => Math.abs(v / step - Math.round(v / step)) < 1e-6;
    for (let v = Math.ceil(xs.min / o.xMinor) * o.xMinor; v <= xs.max + 1e-9; v += o.xMinor) {
      const px = Math.round(xs.getPixelForValue(v)) + 0.5;
      const len = isMajor(v, o.xMajor) ? o.major : o.minor;
      if (sides.includes('b')) { ctx.moveTo(px, a.bottom); ctx.lineTo(px, a.bottom - len); }
      if (sides.includes('t')) { ctx.moveTo(px, a.top); ctx.lineTo(px, a.top + len); }
    }
    for (let v = Math.ceil(ys.min / o.yMinor) * o.yMinor; v <= ys.max + 1e-9; v += o.yMinor) {
      const py = Math.round(ys.getPixelForValue(v)) + 0.5;
      const len = isMajor(v, o.yMajor) ? o.major : o.minor;
      if (sides.includes('l')) { ctx.moveTo(a.left, py); ctx.lineTo(a.left + len, py); }
      if (sides.includes('r')) { ctx.moveTo(a.right, py); ctx.lineTo(a.right - len, py); }
    }
    ctx.stroke();
    ctx.restore();
  }
};

// legend drawn inside the plot: short line + coloured label
const inlineLegend = {
  id: 'inlineLegend',
  afterDraw(chart, args, o) {
    const ctx = chart.ctx;
    ctx.save();
    ctx.font = o.font;
    ctx.textBaseline = 'middle';
    let row = 0;
    chart.data.datasets.forEach(ds => {
      if (!ds.label) return;
      const y = Math.round(o.y + row * o.dy) + 0.5;
      ctx.strokeStyle = ds.borderColor;
      ctx.lineWidth = o.lineWidth;
      ctx.beginPath();
      ctx.moveTo(o.x, y);
      ctx.lineTo(o.x + o.len, y);
      ctx.stroke();
      ctx.fillStyle = ds.borderColor;
      ctx.fillText(ds.label, o.x + o.len + o.gap, y + 1);
      row++;
    });
    ctx.restore();
  }
};

function panel(id, datasets, o) {
  const tickFont = { size: o.tickSize, weight: 'bold' };
  const titleFont = { size: 17, weight: 'bold' };
  return new Chart(document.getElementById(id), {
    type: 'line',
    data: { datasets: datasets },
    options: {
      responsive: false,
      animation: false,
      events: [],
      layout: { padding: o.pad },
      plugins: {
        legend: { display: false },
        tooltip: { enabled: false },
        frame: { lineWidth: 2, tickWidth: 1.5, major: 6, minor: 3.5, xMajor: 10, xMinor: 5, yMajor: 10, yMinor: 5 },
        inlineLegend: o.legend || false
      },
      scales: {
        x: {
          type: 'linear', min: 0, max: 40,
          grid: { display: false, drawTicks: false }, border: { display: false },
          afterBuildTicks: s => { s.ticks = freqTicks.map(v => ({ value: v })); },
          afterFit: s => { s.height = o.xHeight; s.paddingLeft = 0; s.paddingRight = 0; },
          ticks: { font: tickFont, color: '#000', padding: o.xTickPad, autoSkip: false, maxRotation: 0 },
          title: { display: true, text: 'Frequency (GHz)', font: titleFont, color: '#000', padding: { top: 0, bottom: o.xTitlePad } }
        },
        y: {
          type: 'linear', min: o.yMin, max: o.yMax,
          grid: { display: false, drawTicks: false }, border: { display: false },
          afterBuildTicks: s => { s.ticks = o.yTicks.map(v => ({ value: v })); },
          afterFit: s => { s.width = o.yWidth; s.paddingTop = 0; s.paddingBottom = 0; },
          ticks: { font: tickFont, color: '#000', padding: o.yTickPad, autoSkip: false },
          title: { display: true, text: 'EAM response (dB)', font: titleFont, color: '#000', padding: { top: o.yTitlePad, bottom: 0 } }
        }
      }
    },
    plugins: [frame, inlineLegend]
  });
}

// a) temperature
panel('chartA', [
  trace(tempLabels[0], t15, '#000000', 1.2, 4),
  trace(tempLabels[1], t25, '#FF0000', 1.2, 3),
  trace(tempLabels[2], t35, '#0000FF', 1.2, 2),
  trace(tempLabels[3], t55, '#008000', 1.2, 1)
], {
  pad: { left: 0, right: 20, top: 29, bottom: 0 },
  xHeight: 55, yWidth: 75, yMin: -32.4, yMax: 19.8, yTicks: tempTicks,
  tickSize: 13, xTickPad: 7, yTickPad: 7, xTitlePad: 2, yTitlePad: 18,
  legend: { x: 102, y: 186.5, dy: 19, len: 33, gap: 5, lineWidth: 1.5, font: "bold 13px 'DejaVu Sans'" }
});

// b) illumination wavelength
const markerLine = {
  data: [{ x: markerFreq, y: -130 }, { x: markerFreq, y: -75 }],
  borderColor: '#000', borderWidth: 2, borderDash: [2, 6], pointRadius: 0, order: 20
};
panel('chartB', [
  trace('', bRed, '#FF0000', 2, 12),
  trace('', bGreen, '#00B000', 2, 11),
  trace('', bOlive, '#808000', 2, 10),
  trace('', bViolet, '#EE82EE', 2, 9),
  trace('', bTeal, '#008080', 2, 8),
  trace('', bOlive2, '#808000', 2, 7),
  trace('', bBlue, '#0000FF', 2, 6),
  trace('', bNavy, '#000080', 2, 5),
  trace('', bCyan, '#00FFFF', 2, 4),
  trace('', bBlack, '#000000', 2, 3),
  trace('', bMagenta, '#FF00FF', 2, 2),
  trace('', bYellow, '#FFFF00', 2, 1),
  markerLine
], {
  pad: { left: 0, right: 13, top: 28, bottom: 0 },
  xHeight: 57, yWidth: 73, yMin: -130, yMax: -75, yTicks: wlTicks,
  tickSize: 14, xTickPad: 4, yTickPad: 6, xTitlePad: 5, yTitlePad: 6
});

// c) bias voltage
const biasColors = ['#000000', '#FF0000', '#00FF00', '#0000FF', '#00FFFF', '#FF00FF', '#808000'];
panel('chartC', [v105, v10, v9, v8, v7, v6, v5].map((vals, i) => trace(biasLabels[i], vals, biasColors[i], 2, i)), {
  pad: { left: 0, right: 9, top: 29, bottom: 0 },
  xHeight: 57, yWidth: 74, yMin: -120, yMax: -80, yTicks: biasTicks,
  tickSize: 14, xTickPad: 4, yTickPad: 12, xTitlePad: 5, yTitlePad: 8,
  legend: { x: 83, y: 168.5, dy: 18.6, len: 32, gap: 5, lineWidth: 1.5, font: "bold 13px 'DejaVu Sans'" }
});

// inset of b)
const insetTickFont = { family: "'Liberation Sans'", size: 9, weight: 'bold' };
new Chart(document.getElementById('chartInset'), {
  type: 'line',
  data: { datasets: [{ data: pts(lambda, amplitude), borderColor: '#FF0000', borderWidth: 2, pointRadius: 0, tension: 0 }] },
  options: {
    responsive: false,
    animation: false,
    events: [],
    layout: { padding: { left: 0, right: 9, top: 15, bottom: 0 } },
    plugins: {
      legend: { display: false },
      tooltip: { enabled: false },
      frame: { sides: 'lb', lineWidth: 1.5, tickWidth: 1, major: 3, minor: 3, xMajor: 3, xMinor: 3, yMajor: 5, yMinor: 5 }
    },
    scales: {
      x: {
        type: 'linear', min: 856, max: 871,
        grid: { display: false, drawTicks: false }, border: { display: false },
        afterBuildTicks: s => { s.ticks = lambdaTicks.map(v => ({ value: v })); },
        afterFit: s => { s.height = 37; s.paddingLeft = 0; s.paddingRight = 0; },
        ticks: { font: insetTickFont, color: '#000', padding: 2, autoSkip: false, maxRotation: 0 },
        title: { display: true, text: 'λ (nm)', font: { family: "'Liberation Sans'", size: 14, weight: 'bold' }, color: '#000', padding: { top: 0, bottom: 8 } }
      },
      y: {
        type: 'linear', min: -94, max: -80,
        grid: { display: false, drawTicks: false }, border: { display: false },
        afterBuildTicks: s => { s.ticks = ampTicks.map(v => ({ value: v })); },
        afterFit: s => { s.width = 44; s.paddingTop = 0; s.paddingBottom = 0; },
        ticks: { font: insetTickFont, color: '#000', padding: 2, autoSkip: false },
        title: { display: true, text: 'Amplitude (dB)', font: { family: "'Liberation Sans'", size: 12, weight: 'bold' }, color: '#000', padding: { top: 15, bottom: 0 } }
      }
    }
  },
  plugins: [frame]
});
</script>
</body>
</html>
